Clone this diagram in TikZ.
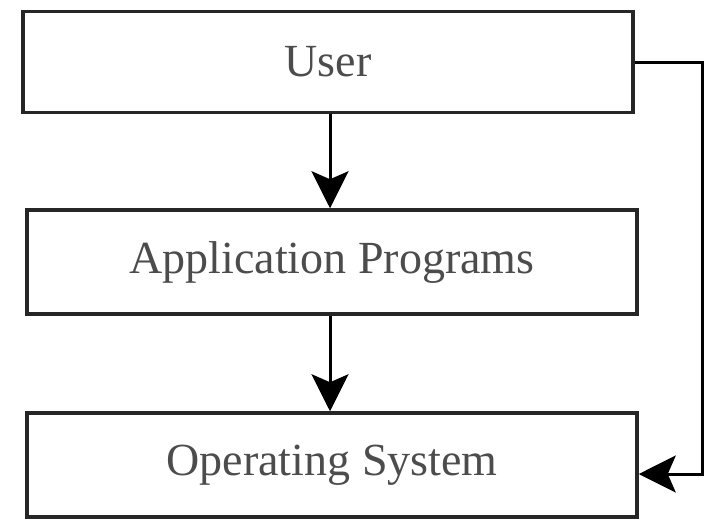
\documentclass[tikz,border=0pt]{standalone}
\usepackage{fontspec}
\setmainfont{Liberation Serif}
\usetikzlibrary{arrows.meta}
\begin{document}
\begin{tikzpicture}[x=1pt,y=-1pt,
  layer/.style={draw=black!85, line width=3.5pt, fill=white, inner sep=0pt,
    minimum width=610pt, minimum height=101pt,
    font=\fontsize{46}{50}\selectfont, text=black!70},
  flow/.style={line width=3pt, draw=black,
    -{Stealth[length=37pt,width=37pt,inset=8pt]}}]
  \useasboundingbox (0,0) rectangle (709,520);
  % three stacked layers
  \node[layer] (user) at (328,62) {User};
  \node[layer, minimum height=104pt] (app) at (332,262) {Application Programs};
  \node[layer, minimum height=104pt] (os) at (332,465) {Operating System};
  % calls down through the layers
  \draw[flow] (user.south -| 330,0) -- (app.north -| 330,0);
  \draw[flow] (app.south -| 330,0) -- (os.north -| 330,0);
  % direct route from the user to the operating system
  \coordinate (turnA) at (702,62);
  \coordinate (turnB) at (702,474);
  \draw[flow] (user.east) -- (turnA) -- (turnB) -- (os.east |- turnB);
\end{tikzpicture}
\end{document}
